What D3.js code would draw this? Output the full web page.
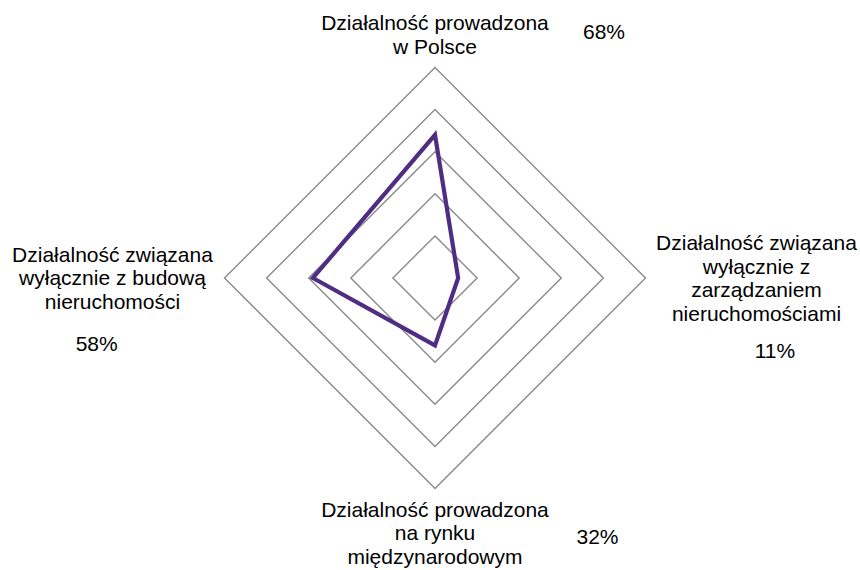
<!DOCTYPE html>
<html>
<head>
<meta charset="utf-8">
<script src="https://cdn.jsdelivr.net/npm/d3@7"></script>
<style>
  html, body { margin: 0; padding: 0; background: #fff; }
  svg { display: block; }
  text { font-family: "Liberation Sans", Arial, sans-serif; font-size: 21px; fill: #000; }
</style>
</head>
<body>
<svg id="chart" width="860" height="570"></svg>
<script>
// Axis names (one entry per line of the label)
const categories = [
  ["Działalność prowadzona", "w Polsce"],
  ["Działalność związana", "wyłącznie z", "zarządzaniem", "nieruchomościami"],
  ["Działalność prowadzona", "na rynku", "międzynarodowym"],
  ["Działalność związana", "wyłącznie z budową", "nieruchomości"]
];
// Share of companies, in percent
const values = [68, 11, 32, 58];
const valueLabels = ["68%", "11%", "32%", "58%"];
// Gridline rings
const gridLevels = [20, 40, 60, 80, 100];

const svg = d3.select("#chart");
const cx = 435, cy = 278, R = 210.5;
const lineH = 23.5;

const r = d3.scaleLinear().domain([0, 100]).range([0, R]);
const angle = d3.scalePoint().domain(d3.range(categories.length)).range([0, 2 * Math.PI * (categories.length - 1) / categories.length]);

const radial = d3.lineRadial()
  .angle((d, i) => angle(i))
  .radius(d => r(d))
  .curve(d3.curveLinearClosed);

const g = svg.append("g").attr("transform", `translate(${cx},${cy})`);

// rings
g.selectAll("path.grid")
  .data(gridLevels)
  .join("path")
  .attr("class", "grid")
  .attr("d", lvl => radial(categories.map(() => lvl)))
  .attr("fill", "none")
  .attr("stroke", "#8a8a8a")
  .attr("stroke-width", 1.4);

// series
g.append("path")
  .attr("d", radial(values))
  .attr("fill", "none")
  .attr("stroke", "#4f2d82")
  .attr("stroke-width", 4.2)
  .attr("stroke-linejoin", "miter");

// label placement: [centre x, first baseline y] for names, [x, y] for values
const nameLayout = [
  [435, 30],
  [756.5, 250],
  [435, 516.7],
  [112.5, 261.7]
];
const valueLayout = [
  [604, 39.3],
  [775, 358.3],
  [597.5, 544],
  [96.7, 350.7]
];

categories.forEach((lines, i) => {
  const t = svg.append("text")
    .attr("text-anchor", "middle")
    .attr("x", nameLayout[i][0])
    .attr("y", nameLayout[i][1]);
  lines.forEach((ln, k) => {
    t.append("tspan")
      .attr("x", nameLayout[i][0])
      .attr("y", nameLayout[i][1] + k * lineH)
      .text(ln);
  });
  svg.append("text")
    .attr("text-anchor", "middle")
    .attr("x", valueLayout[i][0])
    .attr("y", valueLayout[i][1])
    .text(valueLabels[i]);
});
</script>
</body>
</html>
